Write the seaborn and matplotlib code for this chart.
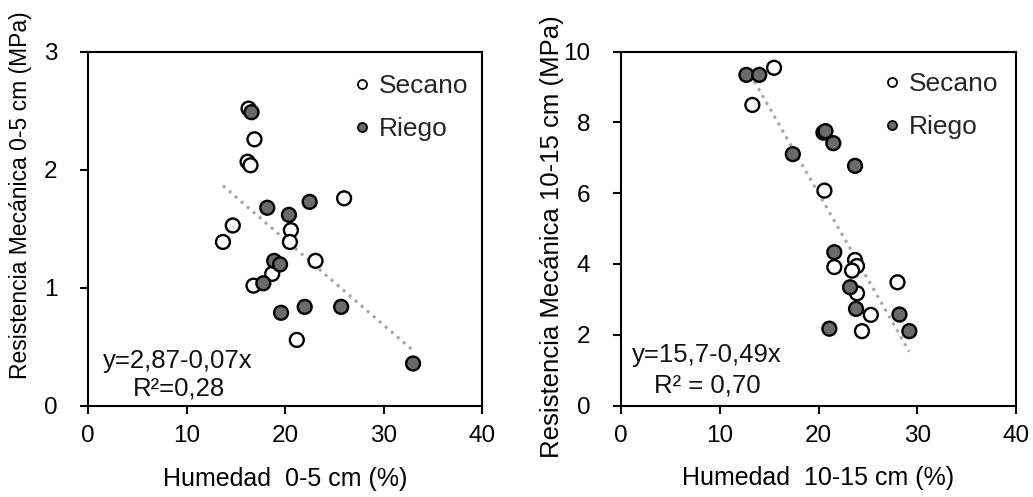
import numpy as np
import pandas as pd
import seaborn as sns
import matplotlib.pyplot as plt
from matplotlib.lines import Line2D

# ---------------- data ----------------
groups = ["Secano", "Riego"]

# 0-5 cm
sec_x_05 = [16.3, 16.9, 16.2, 16.5, 26.0, 14.7, 13.7, 20.6, 20.5, 23.1, 18.7, 16.8, 21.2]
sec_y_05 = [2.52, 2.26, 2.07, 2.04, 1.76, 1.53, 1.39, 1.49, 1.39, 1.23, 1.12, 1.02, 0.56]
rie_x_05 = [16.6, 18.2, 20.4, 22.5, 18.9, 19.5, 17.8, 19.6, 22.0, 25.7, 33.0]
rie_y_05 = [2.49, 1.68, 1.62, 1.73, 1.23, 1.20, 1.04, 0.79, 0.84, 0.84, 0.36]

# 10-15 cm
sec_x_1015 = [15.5, 13.3, 20.6, 21.6, 23.7, 23.9, 23.4, 28.0, 23.9, 25.3, 24.4]
sec_y_1015 = [9.54, 8.49, 6.07, 3.91, 4.11, 3.94, 3.81, 3.48, 3.17, 2.56, 2.10]
rie_x_1015 = [12.7, 14.0, 20.5, 20.7, 21.5, 17.4, 23.7, 21.6, 21.1, 23.2, 23.8, 28.2, 29.2]
rie_y_1015 = [9.34, 9.34, 7.71, 7.75, 7.41, 7.10, 6.77, 4.33, 2.17, 3.34, 2.73, 2.57, 2.10]

xticks = [0, 10, 20, 30, 40]
yticks_05 = [0, 1, 2, 3]
yticks_1015 = [0, 2, 4, 6, 8, 10]

eq_05 = ["y=2,87-0,07x", "R²=0,28"]
eq_1015 = ["y=15,7-0,49x", "R² = 0,70"]

xlabel_05 = "Humedad  0-5 cm (%)"
xlabel_1015 = "Humedad  10-15 cm (%)"
ylabel_05 = "Resistencia Mecánica 0-5 cm (MPa)"
ylabel_1015 = "Resistencia Mecánica 10-15 cm (MPa)"


def make_df(sx, sy, rx, ry):
    return pd.DataFrame({
        "x": sx + rx,
        "y": sy + ry,
        "grupo": [groups[0]] * len(sx) + [groups[1]] * len(rx),
    })


df05 = make_df(sec_x_05, sec_y_05, rie_x_05, rie_y_05)
df1015 = make_df(sec_x_1015, sec_y_1015, rie_x_1015, rie_y_1015)

# ---------------- style ----------------
sns.set_theme(style="white")
plt.rcParams["font.family"] = ["Liberation Sans", "DejaVu Sans"]

GRAY = "#6a6a6a"
palette = {"Secano": "white", "Riego": GRAY}

fig = plt.figure(figsize=(10.33, 4.97), dpi=100)
ax1 = fig.add_axes([88 / 1033, 91 / 497, 394 / 1033, 354 / 497])
ax2 = fig.add_axes([621 / 1033, 91.5 / 497, 395 / 1033, 354 / 497])


def draw(ax, df, ylim, yticks, xlabel, ylabel, eq, eq_pos, ylab_coords,
         ylab_size, ytick_pad, leg_anchor):
    sns.regplot(data=df, x="x", y="y", scatter=False, ci=None, truncate=True,
                ax=ax, line_kws=dict(color="#a8a8a8", lw=2.2,
                                     linestyle=(0, (1, 1.6)), zorder=2))
    sns.scatterplot(data=df, x="x", y="y", hue="grupo", hue_order=groups,
                    palette=palette, edgecolor="black", linewidth=1.7, s=100,
                    ax=ax, legend=False, zorder=3)
    ax.set_xlim(0, 40)
    ax.set_ylim(*ylim)
    ax.set_xticks(xticks)
    ax.set_yticks(yticks)
    for s in ax.spines.values():
        s.set_visible(True)
        s.set_color("black")
        s.set_linewidth(1.5)
    ax.tick_params(axis="both", direction="out", length=6, width=1.5,
                   colors="black", labelsize=17.5, bottom=True, left=True)
    ax.tick_params(axis="x", pad=8)
    ax.tick_params(axis="y", pad=ytick_pad)
    ax.set_xlabel(xlabel, fontsize=18, color="black", labelpad=14)
    ax.set_ylabel(ylabel, fontsize=ylab_size, color="black")
    ax.yaxis.set_label_coords(*ylab_coords)
    # equation
    (x1, y1), (x2, y2) = eq_pos
    ax.text(x1, y1, eq[0], fontsize=18.5, va="baseline", ha="left", color="#111111")
    ax.text(x2, y2, eq[1], fontsize=18.5, va="baseline", ha="left", color="#111111")
    # legend
    handles = [
        Line2D([], [], marker="o", ls="", markerfacecolor=palette[g],
               markeredgecolor="black", markeredgewidth=1.3, markersize=6.5)
        for g in groups
    ]
    ax.legend(handles, groups, loc="upper left", bbox_to_anchor=leg_anchor,
              frameon=False, fontsize=19, handlelength=0.6,
              handletextpad=0.35, labelspacing=0.72, borderaxespad=0,
              borderpad=0)


draw(ax1, df05, (0, 3), yticks_05, xlabel_05, ylabel_05, eq_05,
     [(1.5, 0.32), (4.6, 0.093)], (-0.142, 0.596), 16.5, 16, (0.675, 0.937))
draw(ax2, df1015, (0, 10), yticks_1015, xlabel_1015, ylabel_1015, eq_1015,
     [(1.08, 1.23), (3.3, 0.38)], (-0.145, 0.477), 18.5, 16, (0.665, 0.942))

fig.savefig("out.png", dpi=100, facecolor="white")
